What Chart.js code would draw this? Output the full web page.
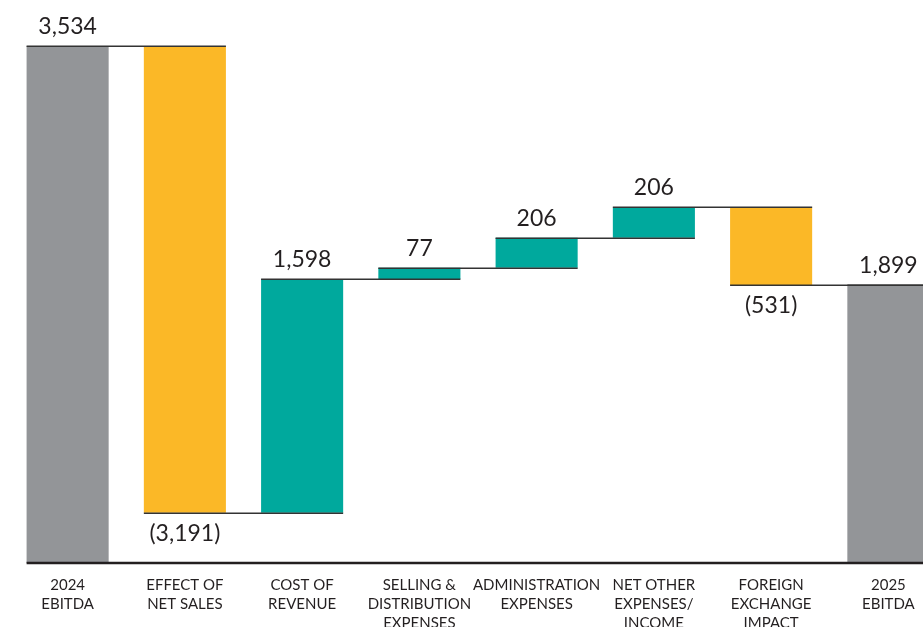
<!DOCTYPE html>
<html>
<head>
<meta charset="utf-8">
<title>EBITDA bridge</title>
<script src="https://cdn.jsdelivr.net/npm/chart.js@4"></script>
<style>
html,body{margin:0;padding:0;background:#fff;overflow:hidden;}
#wrap{position:absolute;left:0;top:0;width:947px;height:627px;}
</style>
</head>
<body>
<div id="wrap"><canvas id="bridge" width="947" height="627"></canvas></div>
<script>
// EBITDA bridge 2024 -> 2025

const categories = [
  ["2024", "EBITDA"],
  ["EFFECT OF", "NET SALES"],
  ["COST OF", "REVENUE"],
  ["SELLING &", "DISTRIBUTION", "EXPENSES"],
  ["ADMINISTRATION", "EXPENSES"],
  ["NET OTHER", "EXPENSES/", "INCOME"],
  ["FOREIGN", "EXCHANGE", "IMPACT"],
  ["2025", "EBITDA"]
];

const amounts = [3534, -3191, 1598, 77, 206, 206, -531, 1899];
const isTotal = [true, false, false, false, false, false, false, true];

const GREY = "#939598";
const ORANGE = "#FBB827";
const TEAL = "#00A99D";
const INK = "#231f20";

// floating ranges for each bar
let ranges = [];
let running = 0;
amounts.forEach((v, i) => {
  if (isTotal[i]) {
    ranges.push([0, v]);
    running = v;
  } else {
    ranges.push([running, running + v]);
    running += v;
  }
});

let colors = amounts.map((v, i) => isTotal[i] ? GREY : (v < 0 ? ORANGE : TEAL));

function fmt(v){
  let s = Math.abs(v).toLocaleString("en-US");
  return v < 0 ? "(" + s + ")" : s;
}

const bridgePlugin = {
  id: "bridge",
  afterDatasetsDraw(chart){
    const ctx = chart.ctx;
    const y = chart.scales.y;
    const bars = chart.getDatasetMeta(0).data;

    ctx.save();

    // connectors: end level of bar i, from left of bar i to right of bar i+1
    ctx.strokeStyle = "#333";
    ctx.lineWidth = 1.5;
    for (let i = 0; i < bars.length; i++) {
      let level = ranges[i][1];
      let py = Math.round(y.getPixelForValue(level)) + 0.25;
      let x0 = bars[i].x - bars[i].width / 2;
      let nxt = bars[i + 1] || bars[i];
      let x1 = nxt.x + nxt.width / 2;
      ctx.beginPath();
      ctx.moveTo(x0, py);
      ctx.lineTo(x1, py);
      ctx.stroke();
    }

    // baseline
    let base = y.getPixelForValue(0);
    ctx.strokeStyle = INK;
    ctx.lineWidth = 2.5;
    ctx.beginPath();
    ctx.moveTo(bars[0].x - bars[0].width / 2, base);
    ctx.lineTo(chart.width, base);
    ctx.stroke();

    // value labels
    ctx.fillStyle = INK;
    ctx.font = "23px Lato, 'Noto Sans', sans-serif";
    ctx.textAlign = "center";
    bars.forEach((b, i) => {
      let v = amounts[i];
      if (v >= 0) {
        ctx.textBaseline = "bottom";
        ctx.fillText(fmt(v), b.x, y.getPixelForValue(Math.max(...ranges[i])) - 8);
      } else {
        ctx.textBaseline = "top";
        ctx.fillText(fmt(v), b.x, y.getPixelForValue(Math.min(...ranges[i])) + 9);
      }
    });

    // category labels
    ctx.font = "15px Lato, 'Noto Sans', sans-serif";
    ctx.textBaseline = "middle";
    bars.forEach((b, i) => {
      categories[i].forEach((line, k) => {
        ctx.fillText(line, b.x, 585 + k * 19);
      });
    });

    ctx.restore();
  }
};

new Chart(document.getElementById("bridge"), {
  type: "bar",
  data: {
    labels: categories.map(c => c.join(" ")),
    datasets: [{
      data: ranges,
      backgroundColor: colors,
      borderWidth: 0,
      categoryPercentage: 1,
      barPercentage: 0.7
    }]
  },
  options: {
    responsive: false,
    animation: false,
    layout: { padding: { left: 9, right: 0, top: 10, bottom: 64 } },
    plugins: { legend: { display: false }, tooltip: { enabled: false } },
    scales: {
      x: { display: false },
      y: { display: false, min: 0, max: 3780 }
    }
  },
  plugins: [bridgePlugin]
});
</script>
</body>
</html>
